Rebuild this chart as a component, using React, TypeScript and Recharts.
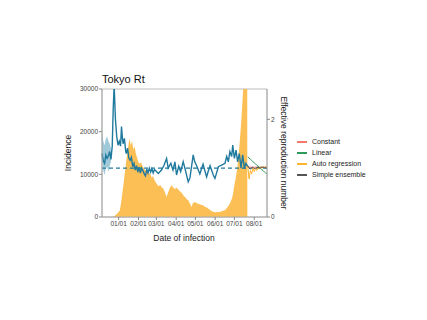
import React from 'react';
import {ComposedChart, Area, Line, XAxis, YAxis, ReferenceLine, ReferenceArea} from 'recharts';

// days counted from 12/06
const tickDays = [26, 57, 85, 116, 146, 177, 207, 238];
const tickLabels = ['01/01', '02/01', '03/01', '04/01', '05/01', '06/01', '07/01', '08/01'];

const incDays = [17, 20, 24, 28, 30, 33, 35, 38, 40, 42, 43, 45, 47, 49, 51, 53, 56, 58, 61, 64, 67, 70, 73, 75, 78, 80, 82, 85, 88, 91, 94, 96, 99, 101, 104, 106, 109, 111, 114, 116, 119, 122, 125, 127, 130, 133, 135, 138, 140, 142, 145, 148, 150, 153, 156, 158, 161, 164, 166, 170, 174, 178, 181, 184, 188, 192, 196, 200, 203, 205, 207, 209, 211, 213, 216, 218, 220, 222, 224, 227, 227.3];
const incValues = [0, 300, 800, 1600, 3500, 7000, 9500, 13300, 15500, 17500, 18400, 16800, 17800, 15800, 16500, 14800, 13300, 12500, 12800, 11800, 11000, 10800, 10400, 10200, 9200, 9600, 8600, 7900, 7200, 7500, 6800, 6700, 5500, 4700, 6000, 6800, 7500, 7000, 6500, 6900, 6500, 6000, 5600, 5100, 4600, 4100, 3900, 3000, 2350, 3200, 3500, 3300, 3100, 3000, 2800, 2750, 2400, 2200, 2000, 1500, 1200, 1100, 1200, 1200, 1400, 1600, 2200, 3150, 4300, 5500, 7500, 9000, 11000, 13500, 18800, 23000, 28000, 33000, 40000, 45000, 0];

const rtDays = [0, 2, 4, 6, 8, 10, 12, 14, 16, 17.5, 19, 21, 23, 25, 27, 29, 30.5, 32, 33, 35, 37, 38, 40, 42, 44, 46, 48, 50, 52, 54, 56, 58, 60, 62, 64, 66, 68, 70, 72, 74, 76, 78, 80, 82, 88, 93, 97, 101, 103.5, 107.7, 111, 114, 116.6, 120, 123, 127, 129.6, 134.8, 137.5, 142.6, 145, 148, 153, 158, 163.6, 166, 169, 174, 176.6, 182, 187, 192.3, 195, 197.5, 200, 202.8, 204.4, 207, 209.6, 212, 214.7, 217.4, 220, 222.6, 225, 228];
const rtValues = [1.30, 1.15, 1.10, 1.27, 1.20, 1.25, 1.34, 1.18, 1.45, 2.2, 2.7, 2.0, 1.65, 1.47, 1.55, 1.45, 1.85, 1.60, 1.50, 1.61, 1.35, 1.30, 1.41, 1.20, 1.16, 1.22, 1.03, 1.10, 0.96, 1.05, 0.92, 1.02, 0.90, 1.00, 0.95, 0.88, 0.84, 0.98, 0.90, 1.00, 0.92, 0.99, 0.90, 0.97, 0.89, 0.96, 1.06, 1.20, 1.00, 1.10, 0.96, 1.13, 0.86, 1.04, 0.93, 1.13, 1.00, 0.72, 0.80, 1.27, 1.13, 1.05, 0.88, 1.08, 0.82, 0.93, 1.05, 0.86, 0.79, 1.03, 1.06, 1.10, 1.24, 1.13, 1.34, 1.24, 1.47, 1.20, 1.37, 1.13, 1.30, 1.00, 1.27, 0.99, 1.10, 1.03];

const bandDays = [0, 2, 4, 6, 8, 10, 12, 14];
const bandLow = [1.20, 0.95, 0.86, 1.00, 1.03, 0.92, 1.05, 1.13];
const bandHigh = [1.75, 1.55, 1.47, 1.60, 1.65, 1.55, 1.50, 1.40];

const projDays = [228, 230, 232, 234, 236, 238, 240, 242, 244, 246, 248, 250, 252, 254, 256, 258];
const constant = [1.02, 1.02, 1.02, 1.02, 1.02, 1.02, 1.02, 1.02, 1.02, 1.02, 1.02, 1.02, 1.02, 1.02, 1.02, 1.02];
const linear = [1.23, 1.21, 1.18, 1.16, 1.13, 1.11, 1.09, 1.06, 1.04, 1.02, 0.99, 0.97, 0.95, 0.92, 0.90, 0.88];
const autoRegression = [1.03, 0.78, 0.95, 0.88, 1.00, 0.93, 0.99, 0.95, 1.02, 0.98, 1.03, 1.00, 1.03, 1.01, 1.03, 1.02];
const ensemble = [1.05, 1.0, 0.98, 1.01, 1.02, 0.99, 1.0, 1.01, 1.02, 1.0, 1.01, 1.02, 1.02, 1.01, 1.01, 1.0];

const legendItems = [
    {name: 'Constant', color: '#f4796b'},
    {name: 'Linear', color: '#2f9a5a'},
    {name: 'Auto regression', color: '#fdb32b'},
    {name: 'Simple ensemble', color: '#555555'},
];

// merge everything into one table keyed by day
const rows = new Map<number, any>();
function put(days: number[], vals: any[], key: string) {
    days.forEach((d, i) => {
        if (!rows.has(d)) rows.set(d, {day: d});
        rows.get(d)[key] = vals[i];
    });
}
put(incDays, incValues, 'inc');
put(rtDays, rtValues, 'rt');
put(bandDays, bandDays.map((d, i) => [bandLow[i], bandHigh[i]]), 'band');
put(projDays, constant, 'constant');
put(projDays, linear, 'linear');
put(projDays, autoRegression, 'ar');
put(projDays, ensemble, 'ens');
const table = Array.from(rows.values()).sort((a, b) => a.day - b.day);

const font = 'Liberation Sans, Arial, sans-serif';
const blue = '#1f7a9e';

export default function App() {
    const tickStyle = {fontSize: 6.5, fill: '#444', fontFamily: font};
    return (
        <div style={{position: 'absolute', left: 0, top: 0, width: 427, height: 320, fontFamily: font, background: '#fff'}}>
            <ComposedChart width={427} height={320} data={table} margin={{top: 89, right: 140, bottom: 73, left: 62}}>
                <XAxis dataKey="day" type="number" domain={[0, 258]} ticks={tickDays} interval={0}
                       tickFormatter={(v) => tickLabels[tickDays.indexOf(v)]}
                       height={30} tick={tickStyle} tickSize={3} tickMargin={1}
                       axisLine={{stroke: '#aaa'}} tickLine={{stroke: '#888'}} />
                <YAxis yAxisId="inc" domain={[0, 30000]} ticks={[0, 10000, 20000, 30000]} allowDataOverflow interval={0}
                       width={40} tick={tickStyle} tickSize={3} tickMargin={1}
                       axisLine={{stroke: '#aaa'}} tickLine={{stroke: '#888'}} />
                <YAxis yAxisId="rt" orientation="right" domain={[0, 2.62]} ticks={[0, 2]} allowDataOverflow interval={0}
                       width={20} tick={tickStyle} tickSize={3} tickMargin={1}
                       axisLine={{stroke: '#aaa'}} tickLine={{stroke: '#888'}} />
                <ReferenceArea yAxisId="inc" x1={0} x2={258} y1={0} y2={30000} fill="none" stroke="#bbb" />

                <Area yAxisId="inc" dataKey="inc" type="linear" stroke="none" fill="#fbbf55" fillOpacity={1}
                      connectNulls isAnimationActive={false} dot={false} activeDot={false} />
                <Area yAxisId="rt" dataKey="band" type="linear" stroke="none" fill="#7fb7cc" fillOpacity={0.75}
                      connectNulls isAnimationActive={false} dot={false} activeDot={false} />
                <ReferenceLine yAxisId="rt" y={1} stroke={blue} strokeWidth={1.2} strokeDasharray="4 3" />
                <Line yAxisId="rt" dataKey="rt" type="linear" stroke={blue} strokeWidth={1.4} dot={false}
                      connectNulls isAnimationActive={false} />
                <Line yAxisId="rt" dataKey="constant" stroke={legendItems[0].color} strokeWidth={1} dot={false}
                      connectNulls isAnimationActive={false} />
                <Line yAxisId="rt" dataKey="linear" stroke={legendItems[1].color} strokeWidth={1} dot={false}
                      connectNulls isAnimationActive={false} />
                <Line yAxisId="rt" dataKey="ar" stroke={legendItems[2].color} strokeWidth={1} dot={false}
                      connectNulls isAnimationActive={false} />
                <Line yAxisId="rt" dataKey="ens" stroke={legendItems[3].color} strokeWidth={1} dot={false}
                      connectNulls isAnimationActive={false} />
            </ComposedChart>

            <div style={{position: 'absolute', left: 102, top: 73, fontSize: 11, color: '#111'}}>Tokyo Rt</div>
            <div style={{position: 'absolute', left: 68, top: 153, fontSize: 8.5, color: '#222',
                transform: 'translate(-50%, -50%) rotate(-90deg)', whiteSpace: 'nowrap'}}>Incidence</div>
            <div style={{position: 'absolute', left: 284, top: 153, fontSize: 8.5, color: '#222',
                transform: 'translate(-50%, -50%) rotate(90deg)', whiteSpace: 'nowrap'}}>Effective reproduction number</div>
            <div style={{position: 'absolute', left: 184, top: 238, fontSize: 8.5, color: '#222',
                transform: 'translate(-50%, -50%)', whiteSpace: 'nowrap'}}>Date of infection</div>

            {legendItems.map((it, i) => (
                <div key={it.name} style={{position: 'absolute', left: 297, top: 137 + i * 11, height: 9,
                    display: 'flex', alignItems: 'center', fontSize: 7, color: '#222', whiteSpace: 'nowrap'}}>
                    <span style={{display: 'inline-block', width: 10, height: 2, background: it.color, marginRight: 5}} />
                    {it.name}
                </div>
            ))}
        </div>
    );
}
